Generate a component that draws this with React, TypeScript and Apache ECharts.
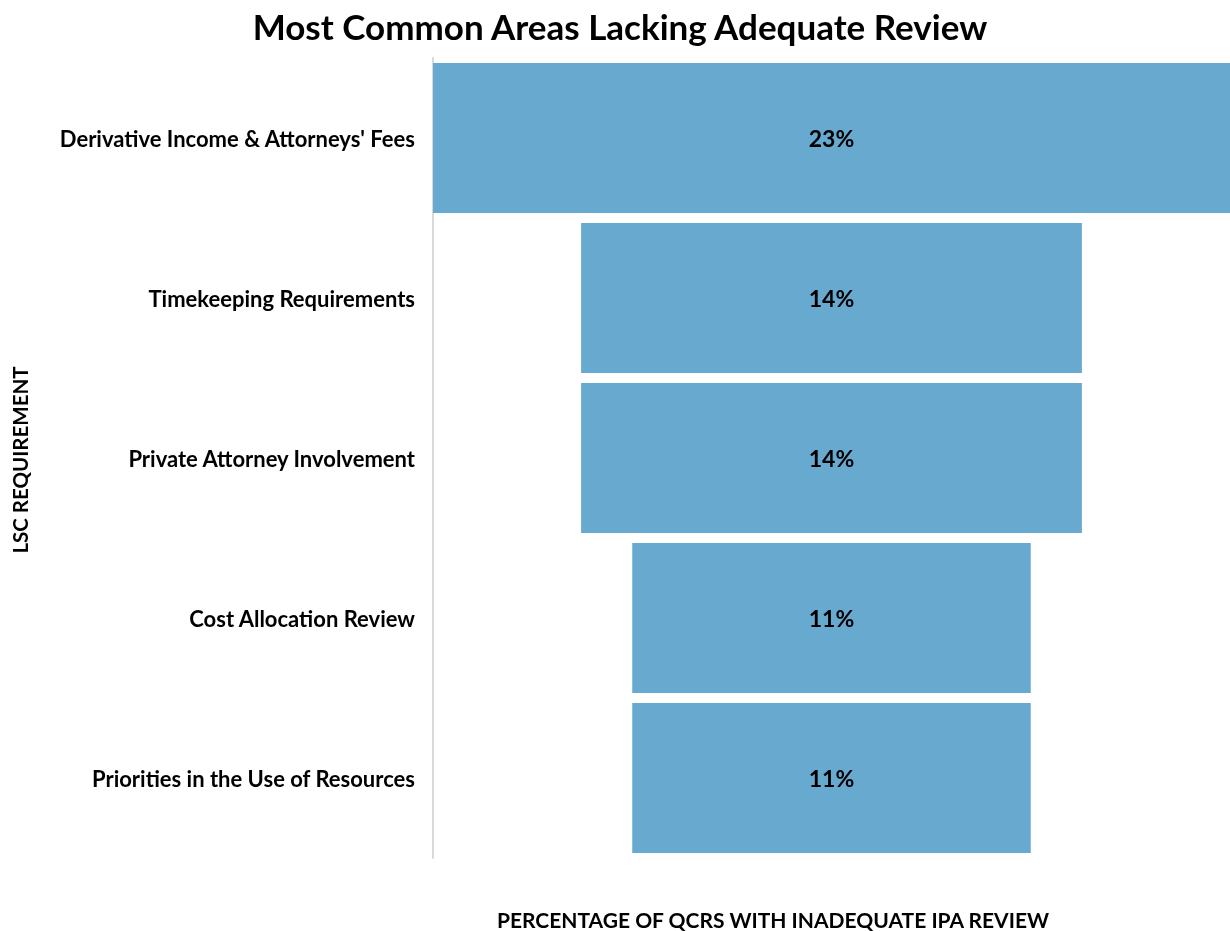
import React, { useEffect, useRef } from "react";
import * as echarts from "echarts";

const categories = [
  "Derivative Income & Attorneys' Fees",
  "Timekeeping Requirements",
  "Private Attorney Involvement",
  "Cost Allocation Review",
  "Priorities in the Use of Resources",
];
const values = [22.6, 14.2, 14.2, 11.3, 11.3];
const chartTitle = "Most Common Areas Lacking Adequate Review";
const xTitle = "PERCENTAGE OF QCRS WITH INADEQUATE IPA REVIEW";
const yTitle = "LSC REQUIREMENT";

const FONT = "Lato, 'Open Sans', sans-serif";

export default function App() {
  const ref = useRef<HTMLDivElement>(null);
  useEffect(() => {
    if (!ref.current) return;
    const chart = echarts.init(ref.current, undefined, { renderer: "svg" });
    const maxV = Math.max(...values);
    const offsets = values.map((v) => (maxV - v) / 2);
    chart.setOption({
      animation: false,
      textStyle: { fontFamily: FONT },
      grid: { left: 433, right: 0, top: 58, bottom: 73 },
      xAxis: {
        type: "value",
        min: 0,
        max: maxV,
        show: false,
      },
      yAxis: {
        type: "category",
        data: categories,
        inverse: true,
        axisLine: { show: true, lineStyle: { color: "#d9d9d9", width: 2 } },
        axisTick: { show: false },
        axisLabel: {
          margin: 18,
          fontSize: 22,
          fontWeight: "bold",
          color: "#000",
          fontFamily: FONT,
        },
        splitLine: { show: false },
      },
      graphic: [
        {
          type: "text",
          x: 620,
          y: 26,
          style: {
            text: chartTitle,
            fontSize: 35,
            fontWeight: "bold",
            fill: "#000",
            fontFamily: FONT,
            align: "center",
            verticalAlign: "middle",
          },
        },
        {
          type: "text",
          x: 773,
          y: 919,
          style: {
            text: xTitle,
            fontSize: 21,
            fontWeight: "bold",
            fill: "#000",
            fontFamily: FONT,
            align: "center",
            verticalAlign: "middle",
          },
        },
        {
          type: "text",
          x: 20,
          y: 460,
          rotation: Math.PI / 2,
          style: {
            text: yTitle,
            fontSize: 20.5,
            fontWeight: "bold",
            fill: "#000",
            fontFamily: FONT,
            align: "center",
            verticalAlign: "middle",
          },
        },
      ],
      series: [
        {
          type: "bar",
          stack: "f",
          data: offsets,
          itemStyle: { color: "transparent" },
          barCategoryGap: "6.25%",
          silent: true,
        },
        {
          type: "bar",
          stack: "f",
          data: values,
          barCategoryGap: "6.25%",
          itemStyle: { color: "#67a9cf" },
          label: {
            show: true,
            position: "inside",
            formatter: (p: any) => Math.round(p.value) + "%",
            fontSize: 23,
            fontWeight: "bold",
            color: "#000",
            fontFamily: FONT,
          },
        },
      ],
    });
    return () => chart.dispose();
  }, []);
  return (
    <div
      ref={ref}
      style={{ position: "fixed", left: 0, top: 0, width: 1230, height: 931 }}
    />
  );
}
